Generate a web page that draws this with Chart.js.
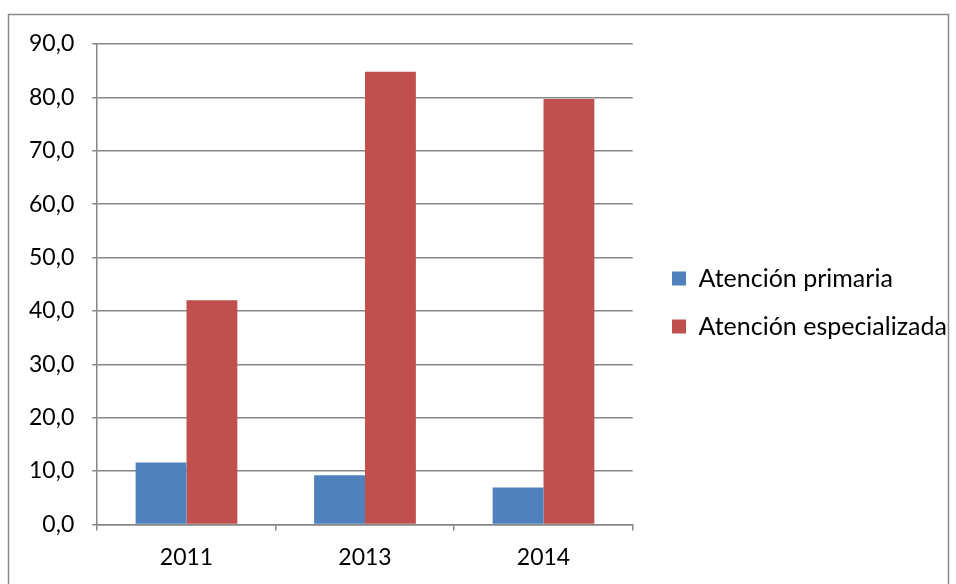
<!DOCTYPE html>
<html>
<head>
<meta charset="utf-8">
<script src="https://cdn.jsdelivr.net/npm/chart.js@4/dist/chart.umd.min.js"></script>
<style>
  html, body { margin: 0; padding: 0; background: #ffffff; }
  #wrap { position: relative; width: 956px; height: 584px; }
</style>
</head>
<body>
<div id="wrap"><canvas id="c" width="956" height="584"></canvas></div>
<script>
const categories = ['2011', '2013', '2014'];
const seriesNames = ['Atención primaria', 'Atención especializada'];
const primaria = [11.6, 9.2, 6.9];
const especializada = [42.0, 84.8, 79.7];
const yTicks = [0, 10, 20, 30, 40, 50, 60, 70, 80, 90];

const FONT = 'Lato';
const GRID = '#868686';
const LEG_PAD = 23;

const framePlugin = {
  id: 'frame',
  beforeDraw(chart) {
    const ctx = chart.ctx;
    ctx.save();
    ctx.fillStyle = '#ffffff';
    ctx.fillRect(0, 0, chart.width, chart.height);
    ctx.strokeStyle = '#8a8a8a';
    ctx.lineWidth = 1.5;
    ctx.strokeRect(8.5, 14.5, 940, 600);
    ctx.restore();
  }
};

// place the legend column where the reference has it, and widen its box so text is not clipped
const legendShift = {
  id: 'legendShift',
  afterLayout(chart) {
    const l = chart.legend;
    if (!l) return;
    const dx = 672 - LEG_PAD - l.left;
    const dy = -11.5;
    l.left += dx;
    l.right = chart.width;
    l.width = l.right - l.left;
    l.top += dy; l.bottom += dy;
  }
};

function build() {
  new Chart(document.getElementById('c'), {
    type: 'bar',
    data: {
      labels: categories,
      datasets: [
        { label: seriesNames[0], data: primaria, backgroundColor: '#4F81BD', borderWidth: 0 },
        { label: seriesNames[1], data: especializada, backgroundColor: '#C0504D', borderWidth: 0 }
      ]
    },
    options: {
      responsive: false,
      animation: false,
      devicePixelRatio: 1,
      layout: { padding: { left: 11, top: 44, right: 116, bottom: 0 } },
      datasets: { bar: { categoryPercentage: 0.57, barPercentage: 1.0 } },
      plugins: {
        tooltip: { enabled: false },
        legend: {
          position: 'right',
          align: 'center',
          labels: {
            boxWidth: 14, boxHeight: 14, padding: LEG_PAD,
            color: '#000000',
            font: { family: FONT, size: 25 }
          }
        }
      },
      scales: {
        x: {
          offset: true,
          grid: { offset: true, drawOnChartArea: false, drawTicks: true, tickLength: 6, color: GRID, lineWidth: 1.5 },
          border: { display: true, color: GRID, width: 1.5 },
          ticks: { color: '#000000', padding: 13, font: { family: FONT, size: 23 } }
        },
        y: {
          min: 0, max: 90,
          afterBuildTicks(scale) { scale.ticks = yTicks.map(v => ({ value: v })); },
          grid: { color: GRID, lineWidth: 1.5, tickLength: 5, drawTicks: true },
          border: { display: true, color: GRID, width: 1.5 },
          ticks: {
            color: '#000000', padding: 18,
            font: { family: FONT, size: 23 },
            callback: v => v.toFixed(1).replace('.', ',')
          }
        }
      }
    },
    plugins: [framePlugin, legendShift]
  });
}

if (document.fonts && document.fonts.load) {
  Promise.all([document.fonts.load('23px Lato'), document.fonts.load('25px Lato')]).then(build, build);
} else {
  build();
}
</script>
</body>
</html>
